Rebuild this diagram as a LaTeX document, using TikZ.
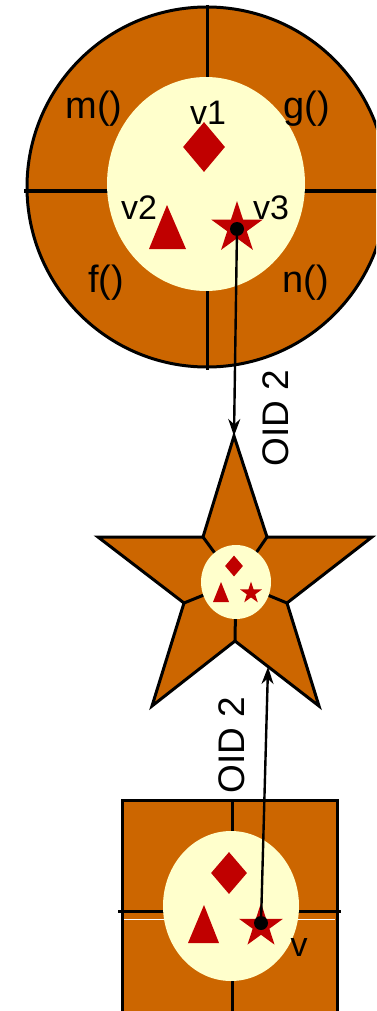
\documentclass[tikz,border=0pt]{standalone}
\usepackage{fontspec}
\setmainfont{Liberation Sans}
\usetikzlibrary{arrows.meta,shapes.geometric}
\definecolor{rust}{HTML}{CC6600}
\definecolor{cream}{HTML}{FFFFCC}
\definecolor{ruby}{HTML}{C00000}

\begin{document}
\begin{tikzpicture}[
  x=1pt,y=-1pt,
  font=\fontsize{34}{40}\selectfont,
  shell/.style={fill=rust,draw=black,line width=3pt,line join=miter},
  split/.style={draw=black,line width=3pt},
  core/.style={fill=cream,draw=none},
  vstar/.style={star,star points=5,star point ratio=2.618,fill=ruby,draw=none,inner sep=0pt},
  vdiamond/.style={diamond,fill=ruby,draw=none,inner sep=0pt},
  vlabel/.style={inner sep=0pt},
  mlabel/.style={inner sep=0pt,font=\fontsize{38}{44}\selectfont},
  pin/.style={circle,fill=black,inner sep=0pt,minimum size=14pt},
  ref/.style={line width=2.4pt,-{Stealth[length=17pt,width=12pt]}},
  oid/.style={rotate=90,inner sep=0pt,font=\fontsize{37}{44}\selectfont}
]
\clip (0,0) rectangle (376,1011);

% top object: methods round the values
\draw[shell] (207,187) circle[radius=180];
\draw[split] (207,5) -- (207,370);
\draw[split] (24,191) -- (380,191);
\fill[core] (206,184) ellipse[x radius=99,y radius=107];

\node[mlabel] (m) at (94,109) {m()};
\node[mlabel] (g) at (307,109) {g()};
\node[mlabel] (f) at (106,283) {f()};
\node[mlabel] (n) at (306,283) {n()};

\node[vlabel] (v1) at (208,113) {v1};
\node[vlabel] (v2) at (139,208) {v2};
\node[vlabel] (v3) at (271,208) {v3};

\node[vdiamond,minimum width=42pt,minimum height=50pt] (v1shape) at (204,147) {};
\fill[ruby] (167,205) -- (186,249) -- (149,249) -- cycle;
\node[vstar,minimum size=54pt] (v3shape) at (237,228) {};
\node[pin] (v3pin) at (237,229) {};

% middle object: the star
\coordinate (tip) at (234,436);
\draw[shell] (tip) -- (267,537) -- (372,537) -- (287,603) -- (319,706)
  -- (235,641) -- (152,706) -- (184,603) -- (98,537) -- (203,537) -- cycle;
\foreach \p in {(203,537),(267,537),(287,603),(235,641),(184,603)}
  \draw[split] \p -- (236,582);
\fill[core] (236,582) ellipse[x radius=35,y radius=37];

\node[vdiamond,minimum width=18pt,minimum height=21pt] (s1) at (234,566) {};
\fill[ruby] (221,582) -- (229,602) -- (213,602) -- cycle;
\node[vstar,minimum size=23pt] (s3) at (251,593) {};

\draw[ref] (v3pin) -- (tip);
\node[oid] (oid1) at (276,418) {OID 2};

% bottom object: the square
\draw[shell] (122,800) rectangle (337,1030);
\draw[split] (232,800) -- (232,1030);
\draw[split] (118,911) -- (341,911);
\draw[white,line width=1pt] (124,919) -- (335,919);
\fill[core] (231,906) ellipse[x radius=68,y radius=75];

\node[vdiamond,minimum width=36pt,minimum height=42pt] (b1) at (229,873) {};
\fill[ruby] (204,905) -- (219,943) -- (188,943) -- cycle;
\node[vstar,minimum size=46pt] (b3) at (261,926) {};
\node[pin] (vpin) at (261,923) {};
\node[vlabel] (v) at (299,948) {v};

\coordinate (hit) at (268,667);
\draw[ref] (vpin) -- (hit);
\node[oid] (oid2) at (232,745) {OID 2};
\end{tikzpicture}
\end{document}
